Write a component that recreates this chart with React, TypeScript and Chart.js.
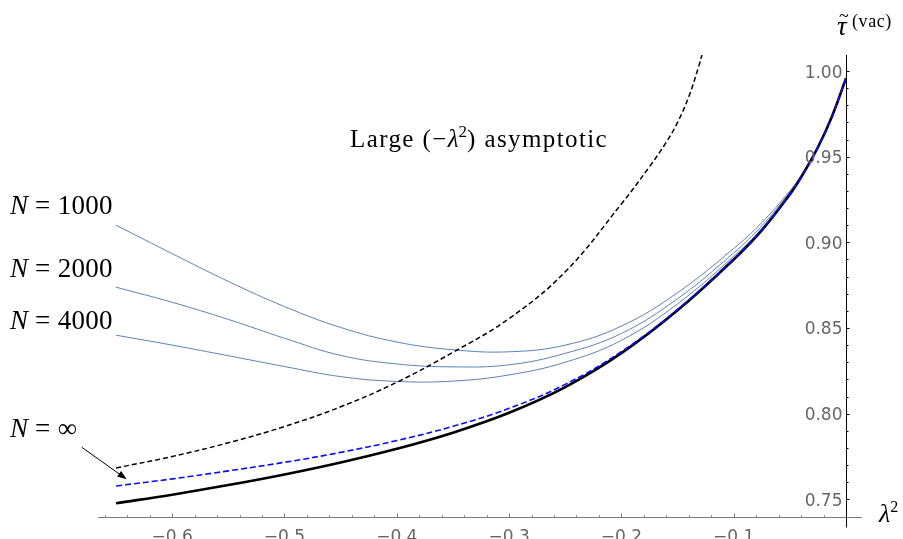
import React, { useEffect, useRef } from "react";
import { Chart, registerables } from "chart.js";

Chart.register(...registerables);

// lambda^2 sample points
const lambda2 = [-0.65, -0.6, -0.55, -0.5, -0.45, -0.4, -0.35, -0.3, -0.25, -0.2, -0.15, -0.1, -0.075, -0.05, -0.04, -0.025, -0.0125, 0];

// exact N = infinity (black solid)
const tauExact = [0.7477, 0.7527, 0.7583, 0.7645, 0.7715, 0.7795, 0.7889, 0.8005, 0.8155, 0.8353, 0.8603, 0.8900, 0.9070, 0.9280, 0.9379, 0.9555, 0.9735, 0.9957];
// N = infinity approximation (blue dashed)
const tauInfDashed = [0.7578, 0.7619, 0.7666, 0.7716, 0.7774, 0.7843, 0.7926, 0.8031, 0.8171, 0.8362, 0.8608, 0.8903, 0.9072, 0.9281, 0.9380, 0.9556, 0.9735, 0.9957];
// finite N curves
const tauN1000 = [0.9100, 0.8934, 0.8772, 0.8625, 0.8503, 0.8418, 0.8373, 0.8361, 0.8400, 0.8511, 0.8706, 0.8964, 0.9115, 0.9300, 0.9392, 0.9562, 0.9738, 0.9957];
const tauN2000 = [0.8738, 0.8650, 0.8550, 0.8440, 0.8340, 0.8290, 0.8273, 0.8285, 0.8352, 0.8468, 0.8671, 0.8938, 0.9096, 0.9292, 0.9386, 0.9559, 0.9737, 0.9957];
const tauN4000 = [0.8458, 0.8400, 0.8338, 0.8275, 0.8216, 0.8188, 0.8190, 0.8226, 0.8300, 0.8428, 0.8641, 0.8918, 0.9081, 0.9285, 0.9382, 0.9557, 0.9736, 0.9957];

// large (-lambda^2) asymptotic (black dashed)
const asymX = [-0.65, -0.6, -0.55, -0.5, -0.45, -0.4, -0.35, -0.3, -0.25, -0.2, -0.175, -0.16, -0.15, -0.14, -0.131, -0.128];
const asymY = [0.7683, 0.7750, 0.7830, 0.7925, 0.8040, 0.8183, 0.8358, 0.8555, 0.8828, 0.9224, 0.9441, 0.9585, 0.9700, 0.9850, 1.0030, 1.0100];

// axes
const xMajorTicks = [-0.6, -0.5, -0.4, -0.3, -0.2, -0.1];
const xTickLabels = ["\u22120.6", "\u22120.5", "\u22120.4", "\u22120.3", "\u22120.2", "\u22120.1"];
const xMinorTicks = [-0.66, -0.64, -0.62, -0.58, -0.56, -0.54, -0.52, -0.48, -0.46, -0.44, -0.42, -0.38, -0.36, -0.34, -0.32, -0.28, -0.26, -0.24, -0.22, -0.18, -0.16, -0.14, -0.12, -0.08, -0.06, -0.04, -0.02];
const yMajorTicks = [0.75, 0.8, 0.85, 0.9, 0.95, 1.0];
const yTickLabels = ["0.75", "0.80", "0.85", "0.90", "0.95", "1.00"];
const yMinorTicks = [0.76, 0.77, 0.78, 0.79, 0.81, 0.82, 0.83, 0.84, 0.86, 0.87, 0.88, 0.89, 0.91, 0.92, 0.93, 0.94, 0.96, 0.97, 0.98, 0.99];

const X_MIN = -0.66607;
const X_MAX = 0.01425;
const Y_MIN = 0.73967;
const Y_MAX = 1.00934;

const SERIF = "'Liberation Serif', 'Times New Roman', serif";
const SANS = "'DejaVu Sans', sans-serif";

type Part = { t: string; f: string; dy?: number; ls?: string };

function drawRich(ctx: CanvasRenderingContext2D, x: number, y: number, parts: Part[]) {
  let cx = x;
  for (const p of parts) {
    ctx.font = p.f;
    (ctx as any).letterSpacing = p.ls || "0px";
    ctx.fillText(p.t, cx, y + (p.dy || 0));
    cx += ctx.measureText(p.t).width;
  }
  (ctx as any).letterSpacing = "0px";
}

const mathAxes = {
  id: "mathAxes",
  afterDraw(chart: any) {
    const ctx: CanvasRenderingContext2D = chart.ctx;
    const xs = chart.scales.x;
    const ys = chart.scales.y;
    const ca = chart.chartArea;
    ctx.save();

    // x axis
    const ax = Math.round(ys.getPixelForValue(Y_MIN)) + 0.5;
    ctx.strokeStyle = "#7a7a7a";
    ctx.lineWidth = 1;
    ctx.beginPath();
    ctx.moveTo(ca.left, ax);
    ctx.lineTo(ca.right, ax);
    ctx.stroke();
    ctx.beginPath();
    for (const v of xMajorTicks) {
      const px = Math.round(xs.getPixelForValue(v)) + 0.5;
      ctx.moveTo(px, ax);
      ctx.lineTo(px, ax - 4);
    }
    for (const v of xMinorTicks) {
      const px = Math.round(xs.getPixelForValue(v)) + 0.5;
      ctx.moveTo(px, ax);
      ctx.lineTo(px, ax - 2);
    }
    ctx.stroke();
    ctx.fillStyle = "#666666";
    ctx.font = "17px " + SANS;
    ctx.textAlign = "center";
    ctx.textBaseline = "alphabetic";
    xMajorTicks.forEach((v, i) => {
      ctx.fillText(xTickLabels[i], xs.getPixelForValue(v), ax + 24);
    });

    // y axis at x = 0
    const ay = Math.round(xs.getPixelForValue(0)) + 0.5;
    ctx.strokeStyle = "#000000";
    ctx.beginPath();
    ctx.moveTo(ay, ca.top);
    ctx.lineTo(ay, ax + 10);
    ctx.stroke();
    ctx.beginPath();
    for (const v of yMajorTicks) {
      const py = Math.round(ys.getPixelForValue(v)) + 0.5;
      ctx.moveTo(ay, py);
      ctx.lineTo(ay + 3, py);
    }
    for (const v of yMinorTicks) {
      const py = Math.round(ys.getPixelForValue(v)) + 0.5;
      ctx.moveTo(ay, py);
      ctx.lineTo(ay + 2, py);
    }
    ctx.stroke();
    ctx.fillStyle = "#666666";
    ctx.textAlign = "right";
    yMajorTicks.forEach((v, i) => {
      ctx.fillText(yTickLabels[i], ay - 4, ys.getPixelForValue(v) + 6.5);
    });

    // axis titles
    ctx.fillStyle = "#000000";
    ctx.textAlign = "left";
    drawRich(ctx, 837, 35, [{ t: "\u03C4", f: "italic 27px " + SERIF }]);
    drawRich(ctx, 839, 22, [{ t: "~", f: "18px " + SERIF }]);
    drawRich(ctx, 852, 27, [{ t: "(vac)", f: "18px " + SERIF, ls: "0.6px" }]);
    drawRich(ctx, 879, 522, [
      { t: "\u03BB", f: "italic 26px " + SERIF },
      { t: "2", f: "16px " + SERIF, dy: -10 },
    ]);

    // curve labels
    const nParts = (n: string): Part[] => [
      { t: "N", f: "italic 27px " + SERIF },
      { t: " = " + n, f: "27px " + SERIF, ls: "0.3px" },
    ];
    drawRich(ctx, 10, 213.5, nParts("1000"));
    drawRich(ctx, 10, 277, nParts("2000"));
    drawRich(ctx, 10, 329, nParts("4000"));
    drawRich(ctx, 10, 437, nParts("\u221E"));
    drawRich(ctx, 350, 147, [
      { t: "Large (\u2212", f: "25px " + SERIF, ls: "1.4px" },
      { t: "\u03BB", f: "italic 25px " + SERIF },
      { t: "2", f: "17px " + SERIF, dy: -10 },
      { t: ") asymptotic", f: "25px " + SERIF, ls: "1.4px" },
    ]);

    // arrow pointing to the N = infinity curve
    const tx = xs.getPixelForValue(-0.6806);
    const ty = ys.getPixelForValue(0.7804);
    const hx = xs.getPixelForValue(-0.6405);
    const hy = ys.getPixelForValue(0.7617);
    const ang = Math.atan2(hy - ty, hx - tx);
    ctx.strokeStyle = "#000";
    ctx.fillStyle = "#000";
    ctx.lineWidth = 1;
    ctx.beginPath();
    ctx.moveTo(tx, ty);
    ctx.lineTo(hx - 6 * Math.cos(ang), hy - 6 * Math.sin(ang));
    ctx.stroke();
    ctx.beginPath();
    ctx.moveTo(hx, hy);
    ctx.lineTo(hx - 10 * Math.cos(ang - 0.35), hy - 10 * Math.sin(ang - 0.35));
    ctx.lineTo(hx - 10 * Math.cos(ang + 0.35), hy - 10 * Math.sin(ang + 0.35));
    ctx.closePath();
    ctx.fill();

    ctx.restore();
  },
};

function pts(xs: number[], ys: number[]) {
  return xs.map((x, i) => ({ x, y: ys[i] }));
}

export default function App() {
  const ref = useRef<HTMLCanvasElement | null>(null);
  useEffect(() => {
    if (!ref.current) return;
    const common = { pointRadius: 0, fill: false, tension: 0.4 };
    const chart = new Chart(ref.current, {
      type: "line",
      data: {
        datasets: [
          { ...common, data: pts(lambda2, tauInfDashed), borderColor: "#0a0aff", borderWidth: 1.6, borderDash: [6, 3] },
          { ...common, data: pts(lambda2, tauExact), borderColor: "#000000", borderWidth: 2.6 },
          { ...common, data: pts(asymX, asymY), borderColor: "#000000", borderWidth: 1.5, borderDash: [5, 3] },
          { ...common, data: pts(lambda2, tauN1000), borderColor: "#5E81B5", borderWidth: 1 },
          { ...common, data: pts(lambda2, tauN2000), borderColor: "#5E81B5", borderWidth: 1 },
          { ...common, data: pts(lambda2, tauN4000), borderColor: "#5E81B5", borderWidth: 1 },
        ],
      },
      options: {
        responsive: false,
        animation: false,
        devicePixelRatio: 1,
        layout: { padding: { left: 98, right: 41, top: 55, bottom: 22 } },
        plugins: { legend: { display: false }, tooltip: { enabled: false } },
        scales: {
          x: { type: "linear", min: X_MIN, max: X_MAX, display: false },
          y: { type: "linear", min: Y_MIN, max: Y_MAX, display: false },
        },
      },
      plugins: [mathAxes],
    });
    return () => chart.destroy();
  }, []);
  return (
    <div style={{ position: "fixed", left: 0, top: 0, width: 903, height: 539, background: "#fff" }}>
      <canvas ref={ref} width={903} height={539} style={{ display: "block" }} />
    </div>
  );
}
